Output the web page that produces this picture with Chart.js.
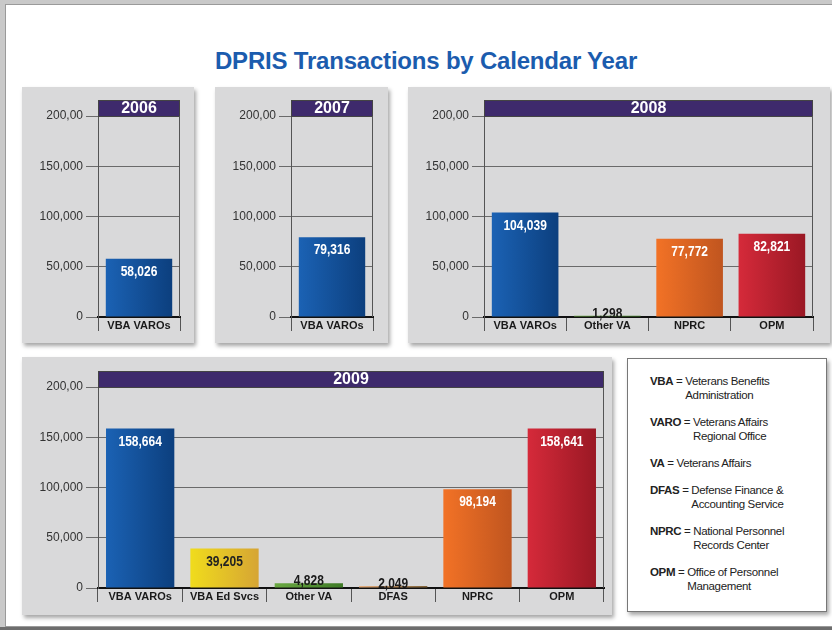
<!DOCTYPE html>
<html>
<head>
<meta charset="utf-8">
<script src="https://cdn.jsdelivr.net/npm/chart.js@4.4.1/dist/chart.umd.min.js"></script>
<style>
  body { margin: 0; width: 832px; height: 630px; background: #c9c9c9; position: relative; overflow: hidden; font-family: 'Liberation Sans', Arial, sans-serif; }
  #frame { position: absolute; left: 5px; top: 4px; width: 840px; height: 621px; background: #fff; border: 1px solid #9a9a9a; }
  #bottomBand { position: absolute; left: 0; top: 627px; width: 832px; height: 3px; background: #6d6d6d; }
  #title { position: absolute; left: 0; top: 47px; width: 852px; text-align: center; font-size: 24px; font-weight: bold; line-height: 28px; color: #1b5cae; letter-spacing: -0.2px; }
  .panel { position: absolute; background: #d9d9da; box-shadow: 2px 3px 4px rgba(0,0,0,0.35); }
  .panel canvas { position: absolute; left: 0; top: 0; }
  #legendBox { position: absolute; left: 627px; top: 358px; width: 200px; height: 254px; background: #fff; border: 1px solid #777; box-shadow: 2px 3px 4px rgba(0,0,0,0.35); box-sizing: border-box; padding: 15px 0 0 22px; font-size: 11.5px; letter-spacing: -0.35px; color: #222; }
  .entry { display: flex; line-height: 14px; margin-bottom: 13px; }
  .entry b { white-space: nowrap; }
  .entry .eq { white-space: pre; }
</style>
</head>
<body>
<div id="frame"></div>
<div id="bottomBand"></div>
<div id="title">DPRIS Transactions by Calendar Year</div>

<div class="panel" style="left:22px;top:87px;width:172px;height:256px;"><canvas id="chart2006" width="172" height="256"></canvas></div>
<div class="panel" style="left:215px;top:87px;width:173px;height:256px;"><canvas id="chart2007" width="173" height="256"></canvas></div>
<div class="panel" style="left:408px;top:87px;width:422px;height:256px;"><canvas id="chart2008" width="422" height="256"></canvas></div>
<div class="panel" style="left:22px;top:357px;width:590px;height:258px;"><canvas id="chart2009" width="590" height="258"></canvas></div>

<div id="legendBox">
  <div class="entry"><b>VBA</b><span class="eq"> = </span><span>Veterans Benefits<br>Administration</span></div>
  <div class="entry"><b>VARO</b><span class="eq"> = </span><span>Veterans Affairs<br>Regional Office</span></div>
  <div class="entry"><b>VA</b><span class="eq"> = </span><span>Veterans Affairs</span></div>
  <div class="entry"><b>DFAS</b><span class="eq"> = </span><span>Defense Finance &amp;<br>Accounting Service</span></div>
  <div class="entry"><b>NPRC</b><span class="eq"> = </span><span>National Personnel<br>Records Center</span></div>
  <div class="entry"><b>OPM</b><span class="eq"> = </span><span>Office of Personnel<br>Management</span></div>
</div>

<script>
// Data
const categories2006 = ['VBA VAROs'];
const values2006 = [58026];
const categories2007 = ['VBA VAROs'];
const values2007 = [79316];
const categories2008 = ['VBA VAROs', 'Other VA', 'NPRC', 'OPM'];
const values2008 = [104039, 1298, 77772, 82821];
const categories2009 = ['VBA VAROs', 'VBA Ed Svcs', 'Other VA', 'DFAS', 'NPRC', 'OPM'];
const values2009 = [158664, 39205, 4828, 2049, 98194, 158641];
const yTickValues = [0, 50000, 100000, 150000, 200000];
const yTickLabels = ['0', '50,000', '100,000', '150,000', '200,00'];

// colours per agency: [left, right] of the gradient, and the value label colour
const agencyColors = {
  'VBA VAROs': ['#1b62b4', '#0c3f7e', '#ffffff'],
  'VBA Ed Svcs': ['#f0dc1c', '#d6a534', '#222222'],
  'Other VA': ['#6aa842', '#3e7a26', '#222222'],
  'DFAS': ['#e6ae7e', '#7e6238', '#222222'],
  'NPRC': ['#f27226', '#c0551f', '#ffffff'],
  'OPM': ['#d52a3a', '#9a1824', '#ffffff']
};

const BAR_PCT = 0.81;

// purple year header above the plot plus the right border line
const headerPlugin = {
  id: 'yearHeader',
  afterDraw(chart, args, opts) {
    const { ctx, chartArea } = chart;
    const h = 16;
    ctx.save();
    ctx.fillStyle = '#3e2a6c';
    ctx.fillRect(chartArea.left, chartArea.top - h, chartArea.right - chartArea.left, h);
    ctx.strokeStyle = '#444';
    ctx.lineWidth = 1;
    ctx.strokeRect(chartArea.left + 0.5, chartArea.top - h + 0.5, chartArea.right - chartArea.left - 1, h);
    ctx.fillStyle = '#ffffff';
    ctx.font = 'bold 16px "Liberation Sans", Arial, sans-serif';
    ctx.textAlign = 'center';
    ctx.textBaseline = 'middle';
    ctx.fillText(opts.year, (chartArea.left + chartArea.right) / 2, chartArea.top - h / 2 + 1);
    // right border of plot
    ctx.strokeStyle = '#555';
    ctx.beginPath();
    ctx.moveTo(chartArea.right - 0.5, chartArea.top);
    ctx.lineTo(chartArea.right - 0.5, chartArea.bottom);
    ctx.stroke();
    ctx.restore();
  }
};

// value labels on the bars (condensed bold)
const valueLabelPlugin = {
  id: 'valueLabels',
  afterDatasetsDraw(chart) {
    const { ctx } = chart;
    const meta = chart.getDatasetMeta(0);
    const cats = chart.data.labels;
    const vals = chart.data.datasets[0].data;
    meta.data.forEach((el, i) => {
      const txt = vals[i].toLocaleString('en-US');
      ctx.save();
      ctx.font = 'bold 15px "Liberation Sans", Arial, sans-serif';
      ctx.textAlign = 'center';
      if (vals[i] < 10000) {
        ctx.fillStyle = '#1a1a1a';
        ctx.textBaseline = 'alphabetic';
        ctx.translate(el.x, el.y + 2);
      } else {
        ctx.fillStyle = agencyColors[cats[i]][2];
        ctx.textBaseline = 'middle';
        ctx.translate(el.x, el.y + 13);
      }
      ctx.scale(0.8, 1);
      ctx.fillText(txt, 0, 0);
      ctx.restore();
    });
  }
};

function makeChart(id, year, categories, values, pad) {
  const el = document.getElementById(id);
  return new Chart(el, {
    type: 'bar',
    data: {
      labels: categories,
      datasets: [{
        data: values,
        barPercentage: BAR_PCT,
        categoryPercentage: 1.0,
        borderWidth: 0,
        backgroundColor: (c) => {
          const chart = c.chart;
          const cols = agencyColors[categories[c.dataIndex]];
          const xs = chart.scales.x;
          if (!xs || !chart.chartArea) return cols[0];
          const cx = xs.getPixelForValue(c.dataIndex);
          const half = (xs.width / categories.length) * BAR_PCT / 2;
          if (!Number.isFinite(cx)) return cols[0];
          const g = chart.ctx.createLinearGradient(cx - half, 0, cx + half, 0);
          g.addColorStop(0, cols[0]);
          g.addColorStop(1, cols[1]);
          return g;
        }
      }]
    },
    options: {
      responsive: false,
      animation: false,
      layout: { padding: { top: pad.top, right: pad.right, bottom: 0, left: 0 } },
      plugins: {
        legend: { display: false },
        tooltip: { enabled: false },
        yearHeader: { year: year }
      },
      scales: {
        x: {
          afterFit: (s) => { s.height = pad.bottom; },
          grid: {
            offset: true,
            drawOnChartArea: false,
            drawTicks: true,
            tickLength: 14,
            color: '#555'
          },
          border: { color: '#111', width: 2 },
          ticks: {
            padding: -12,
            color: '#1a1a1a',
            font: { family: "'Liberation Sans', Arial, sans-serif", size: 11, weight: 'bold' }
          }
        },
        y: {
          min: 0,
          max: 200000,
          afterFit: (s) => { s.width = 76; },
          afterBuildTicks: (s) => { s.ticks = yTickValues.map(v => ({ value: v })); },
          grid: { color: '#6a6a6a', lineWidth: 1, tickLength: 12 },
          border: { color: '#555', width: 1 },
          ticks: {
            padding: 3,
            color: '#333',
            font: { family: "'Liberation Sans', Arial, sans-serif", size: 12 },
            callback: (v) => yTickLabels[yTickValues.indexOf(v)]
          }
        }
      }
    },
    plugins: [headerPlugin, valueLabelPlugin]
  });
}

makeChart('chart2006', '2006', categories2006, values2006, { top: 29, right: 14, bottom: 26 });
makeChart('chart2007', '2007', categories2007, values2007, { top: 29, right: 15, bottom: 26 });
makeChart('chart2008', '2008', categories2008, values2008, { top: 29, right: 17, bottom: 26 });
makeChart('chart2009', '2009', categories2009, values2009, { top: 30, right: 8, bottom: 27 });
</script>
</body>
</html>
